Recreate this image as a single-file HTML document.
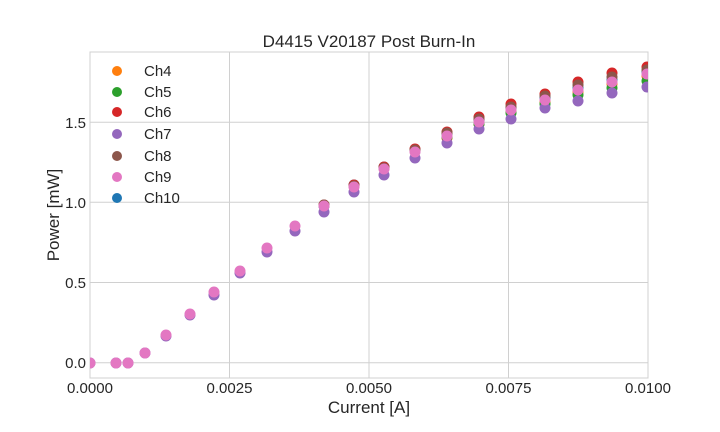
<!DOCTYPE html>
<html><head><meta charset="utf-8"><style>body{margin:0;background:#fff}svg{display:block;font-family:"Liberation Sans",sans-serif}</style></head><body>
<svg width="720" height="432" viewBox="0 0 720 432" xmlns="http://www.w3.org/2000/svg">
<defs><clipPath id="c"><rect x="90" y="52" width="558" height="326"/></clipPath></defs>
<rect width="720" height="432" fill="#fff"/>
<g stroke="#d0d0d0" stroke-width="1">
<line x1="229.5" y1="52" x2="229.5" y2="378"/><line x1="369" y1="52" x2="369" y2="378"/><line x1="508.5" y1="52" x2="508.5" y2="378"/>
<line x1="90" y1="362.7" x2="648" y2="362.7"/><line x1="90" y1="282.5" x2="648" y2="282.5"/><line x1="90" y1="202.3" x2="648" y2="202.3"/><line x1="90" y1="122.2" x2="648" y2="122.2"/>
<rect x="90" y="52" width="558" height="326" fill="none"/>
</g>
<text x="369" y="47" font-size="17" text-anchor="middle" fill="#262626">D4415 V20187 Post Burn-In</text>
<text x="369" y="413" font-size="17" text-anchor="middle" fill="#262626">Current [A]</text>
<text transform="translate(59,215) rotate(-90)" font-size="17" text-anchor="middle" fill="#262626">Power [mW]</text>
<g font-size="15" fill="#262626" text-anchor="middle">
<text x="90" y="393">0.0000</text><text x="229.5" y="393">0.0025</text><text x="369" y="393">0.0050</text><text x="508.5" y="393">0.0075</text><text x="648" y="393">0.0100</text>
</g>
<g font-size="15" fill="#262626" text-anchor="end">
<text x="86" y="368">0.0</text><text x="86" y="288">0.5</text><text x="86" y="208">1.0</text><text x="86" y="128">1.5</text>
</g>
<g clip-path="url(#c)">
<g fill="#1f77b4">
<circle cx="324" cy="206" r="5.5"/><circle cx="354" cy="185" r="5.5"/><circle cx="384" cy="167" r="5.5"/><circle cx="415" cy="150" r="5.5"/><circle cx="447" cy="134" r="5.5"/><circle cx="479" cy="120" r="5.5"/><circle cx="511" cy="108" r="5.5"/><circle cx="545" cy="98" r="5.5"/><circle cx="578" cy="88" r="5.5"/><circle cx="612" cy="80" r="5.5"/><circle cx="647" cy="72" r="5.5"/>
</g>
<g fill="#ff7f0e">
<circle cx="447" cy="138" r="5.5"/><circle cx="479" cy="124" r="5.5"/><circle cx="511" cy="112" r="5.5"/><circle cx="545" cy="102" r="5.5"/><circle cx="578" cy="92" r="5.5"/><circle cx="612" cy="84" r="5.5"/><circle cx="647" cy="76" r="5.5"/>
</g>
<g fill="#2ca02c">
<circle cx="447" cy="137" r="5.5"/><circle cx="479" cy="124" r="5.5"/><circle cx="511" cy="113" r="5.5"/><circle cx="545" cy="104" r="5.5"/><circle cx="578" cy="95" r="5.5"/><circle cx="612" cy="88" r="5.5"/><circle cx="647" cy="81" r="5.5"/>
</g>
<g fill="#d62728">
<circle cx="324" cy="205" r="5.5"/><circle cx="354" cy="185" r="5.5"/><circle cx="384" cy="167" r="5.5"/><circle cx="415" cy="149" r="5.5"/><circle cx="447" cy="132" r="5.5"/><circle cx="479" cy="117" r="5.5"/><circle cx="511" cy="104" r="5.5"/><circle cx="545" cy="94" r="5.5"/><circle cx="578" cy="82" r="5.5"/><circle cx="612" cy="73" r="5.5"/><circle cx="647" cy="67" r="5.5"/>
</g>
<g fill="#9467bd">
<circle cx="90" cy="363" r="5.5"/><circle cx="116" cy="363" r="5.5"/><circle cx="128" cy="363" r="5.5"/><circle cx="145" cy="353" r="5.5"/><circle cx="166" cy="336" r="5.5"/><circle cx="190" cy="315" r="5.5"/><circle cx="214" cy="295" r="5.5"/><circle cx="240" cy="273" r="5.5"/><circle cx="267" cy="252" r="5.5"/><circle cx="295" cy="231" r="5.5"/><circle cx="324" cy="212" r="5.5"/><circle cx="354" cy="192" r="5.5"/><circle cx="384" cy="175" r="5.5"/><circle cx="415" cy="158" r="5.5"/><circle cx="447" cy="143" r="5.5"/><circle cx="479" cy="129" r="5.5"/><circle cx="511" cy="119" r="5.5"/><circle cx="545" cy="108" r="5.5"/><circle cx="578" cy="101" r="5.5"/><circle cx="612" cy="93" r="5.5"/><circle cx="647" cy="87" r="5.5"/>
</g>
<g fill="#8c564b">
<circle cx="324" cy="205" r="5.5"/><circle cx="354" cy="186" r="5.5"/><circle cx="384" cy="168" r="5.5"/><circle cx="415" cy="150" r="5.5"/><circle cx="447" cy="133" r="5.5"/><circle cx="479" cy="119" r="5.5"/><circle cx="511" cy="107" r="5.5"/><circle cx="545" cy="96" r="5.5"/><circle cx="578" cy="85" r="5.5"/><circle cx="612" cy="77" r="5.5"/><circle cx="647" cy="70" r="5.5"/>
</g>
<g fill="#e377c2">
<circle cx="90" cy="363" r="5.5"/><circle cx="116" cy="363" r="5.5"/><circle cx="128" cy="363" r="5.5"/><circle cx="145" cy="353" r="5.5"/><circle cx="166" cy="335" r="5.5"/><circle cx="190" cy="314" r="5.5"/><circle cx="214" cy="292" r="5.5"/><circle cx="240" cy="271" r="5.5"/><circle cx="267" cy="248" r="5.5"/><circle cx="295" cy="226" r="5.5"/><circle cx="324" cy="206" r="5.5"/><circle cx="354" cy="187" r="5.5"/><circle cx="384" cy="169" r="5.5"/><circle cx="415" cy="152" r="5.5"/><circle cx="447" cy="136" r="5.5"/><circle cx="479" cy="122" r="5.5"/><circle cx="511" cy="110" r="5.5"/><circle cx="545" cy="100" r="5.5"/><circle cx="578" cy="90" r="5.5"/><circle cx="612" cy="82" r="5.5"/><circle cx="647" cy="74" r="5.5"/>
</g>
</g>
<g font-size="15" fill="#262626">
<circle cx="117" cy="71" r="5" fill="#ff7f0e"/><text x="144" y="76">Ch4</text>
<circle cx="117" cy="92" r="5" fill="#2ca02c"/><text x="144" y="97">Ch5</text>
<circle cx="117" cy="112" r="5" fill="#d62728"/><text x="144" y="117">Ch6</text>
<circle cx="117" cy="134" r="5" fill="#9467bd"/><text x="144" y="139">Ch7</text>
<circle cx="117" cy="156" r="5" fill="#8c564b"/><text x="144" y="161">Ch8</text>
<circle cx="117" cy="177" r="5" fill="#e377c2"/><text x="144" y="182">Ch9</text>
<circle cx="117" cy="198" r="5" fill="#1f77b4"/><text x="144" y="203">Ch10</text>
</g>
</svg>
</body></html>
